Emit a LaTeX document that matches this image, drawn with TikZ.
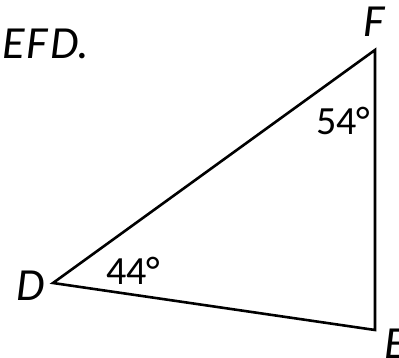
\documentclass[tikz,border=0pt]{standalone}
\usepackage{fontspec}
\setmainfont{Carlito}
\usetikzlibrary{positioning}

\begin{document}
\begin{tikzpicture}[
  x=1pt, y=-1pt,
  vlabel/.style={font=\fontsize{46}{46}\selectfont\itshape, inner sep=0pt},
  angle/.style={font=\fontsize{40}{40}\selectfont, inner sep=0pt},
  side/.style={line width=2.6pt, line join=miter}
]
  \useasboundingbox (0,0) rectangle (399,358);
  \coordinate (D) at (53,283);
  \coordinate (F) at (375,50);
  \coordinate (E) at (375,330);
  \draw[side] (D) -- (F) -- (E) -- cycle;
  % the E at the corner is cut by the page edge, as in the source
  \node[vlabel, anchor=base west] (title) at (2,59) {E\kern2pt F\kern3pt D.};
  \node[vlabel, anchor=base] (lf) at (374,37) {F};
  \node[vlabel, anchor=base] (ld) at (31,300) {D};
  \node[vlabel, anchor=base west] (le) at (384,358) {E};
  \node[angle, anchor=base west] (a44) at (106,284) {44°};
  \node[angle, anchor=base west] (a54) at (316,135) {54°};
\end{tikzpicture}
\end{document}
